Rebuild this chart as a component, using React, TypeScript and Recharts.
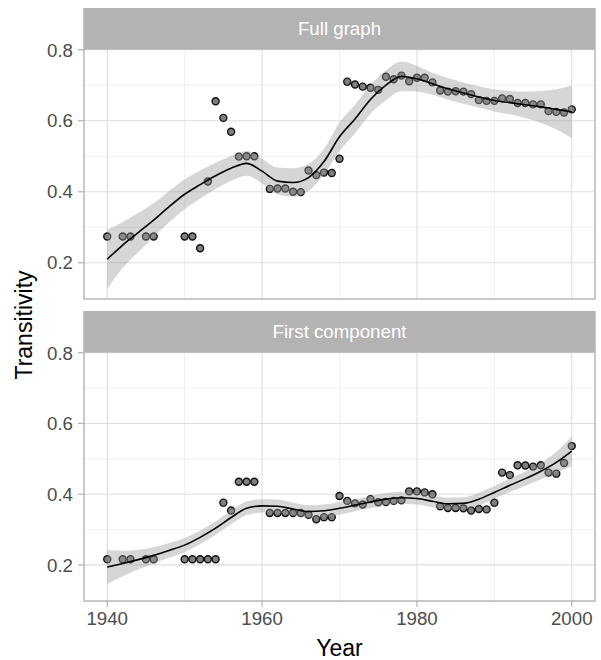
import React from "react";
import {
  ComposedChart,
  Scatter,
  Line,
  Area,
  XAxis,
  YAxis,
  ReferenceLine,
} from "recharts";

// ---------- data ----------
const years = [
  1940, 1942, 1943, 1945, 1946, 1950, 1951, 1952, 1953, 1954, 1955, 1956, 1957,
  1958, 1959, 1961, 1962, 1963, 1964, 1965, 1966, 1967, 1968, 1969, 1970, 1971,
  1972, 1973, 1974, 1975, 1976, 1977, 1978, 1979, 1980, 1981, 1982, 1983, 1984,
  1985, 1986, 1987, 1988, 1989, 1990, 1991, 1992, 1993, 1994, 1995, 1996, 1997,
  1998, 1999, 2000,
];

const fullGraph = [
  0.274, 0.274, 0.274, 0.274, 0.274, 0.274, 0.274, 0.241, 0.429, 0.655, 0.608,
  0.569, 0.499, 0.5, 0.5, 0.408, 0.409, 0.409, 0.4, 0.399, 0.46, 0.447, 0.454,
  0.453, 0.493, 0.71, 0.702, 0.696, 0.693, 0.687, 0.724, 0.717, 0.727, 0.711,
  0.721, 0.721, 0.708, 0.685, 0.682, 0.683, 0.682, 0.675, 0.658, 0.656, 0.656,
  0.663, 0.661, 0.65, 0.65, 0.646, 0.646, 0.627, 0.625, 0.623, 0.632,
];

const firstComponent = [
  0.216, 0.216, 0.216, 0.216, 0.216, 0.216, 0.216, 0.216, 0.216, 0.216, 0.376,
  0.354, 0.435, 0.435, 0.435, 0.347, 0.347, 0.347, 0.347, 0.347, 0.342, 0.329,
  0.335, 0.335, 0.395, 0.381, 0.374, 0.371, 0.386, 0.377, 0.378, 0.381, 0.383,
  0.408, 0.408, 0.405, 0.4, 0.366, 0.361, 0.361, 0.36, 0.354, 0.358, 0.357,
  0.376, 0.461, 0.454, 0.482, 0.481, 0.478, 0.482, 0.461, 0.458, 0.488, 0.536,
];

const smoothYears = [
  1940, 1942, 1944, 1946, 1948, 1950, 1952, 1954, 1956, 1958, 1960, 1962, 1964,
  1966, 1968, 1970, 1972, 1974, 1976, 1978, 1980, 1982, 1984, 1986, 1988, 1990,
  1992, 1994, 1996, 1998, 2000,
];

const fullFit = [
  0.21, 0.25, 0.285, 0.32, 0.358, 0.393, 0.42, 0.445, 0.466, 0.48, 0.458, 0.43,
  0.426, 0.44, 0.485, 0.555, 0.605, 0.66, 0.7, 0.725, 0.718, 0.704, 0.69, 0.678,
  0.667, 0.657, 0.651, 0.645, 0.639, 0.632, 0.625,
];
const fullLo = [
  0.127, 0.185, 0.23, 0.272, 0.314, 0.351, 0.38, 0.408, 0.431, 0.445, 0.423,
  0.392, 0.386, 0.402, 0.449, 0.515, 0.565, 0.62, 0.658, 0.683, 0.682, 0.673,
  0.66, 0.648, 0.637, 0.626, 0.618, 0.608, 0.594, 0.575, 0.551,
];
const fullHi = [
  0.293, 0.315, 0.34, 0.368, 0.402, 0.435, 0.46, 0.482, 0.501, 0.515, 0.493,
  0.468, 0.466, 0.478, 0.521, 0.595, 0.645, 0.7, 0.742, 0.767, 0.754, 0.735,
  0.72, 0.708, 0.697, 0.688, 0.684, 0.682, 0.684, 0.689, 0.699,
];

const compFit = [
  0.194, 0.204, 0.215, 0.227, 0.241, 0.256, 0.278, 0.304, 0.334, 0.36, 0.367,
  0.366, 0.358, 0.351, 0.353, 0.36, 0.369, 0.378, 0.386, 0.39, 0.388, 0.38,
  0.373, 0.374, 0.386, 0.405, 0.425, 0.444, 0.465, 0.49, 0.522,
];
const compLo = [
  0.146, 0.168, 0.187, 0.204, 0.22, 0.236, 0.259, 0.285, 0.315, 0.341, 0.348,
  0.347, 0.34, 0.333, 0.335, 0.342, 0.352, 0.361, 0.369, 0.373, 0.371, 0.363,
  0.356, 0.357, 0.368, 0.387, 0.406, 0.424, 0.442, 0.46, 0.48,
];
const compHi = [
  0.242, 0.24, 0.243, 0.25, 0.262, 0.276, 0.297, 0.323, 0.353, 0.379, 0.386,
  0.385, 0.376, 0.369, 0.371, 0.378, 0.386, 0.395, 0.403, 0.407, 0.405, 0.397,
  0.39, 0.391, 0.404, 0.423, 0.444, 0.464, 0.488, 0.52, 0.564,
];

const panelTitles = ["Full graph", "First component"];
const xTicks = [1940, 1960, 1980, 2000];
const xMinor = [1950, 1970, 1990];
const yTicks = [0.2, 0.4, 0.6, 0.8];
const yMinor = [0.3, 0.5, 0.7];
const xDomain: [number, number] = [1937, 2003];
const yDomain: [number, number] = [0.098, 0.802];

// ---------- layout ----------
const FONT = "'Liberation Sans', Arial, Helvetica, sans-serif";
const PLOT_L = 84;
const PLOT_R = 595;
const P1_TOP = 49;
const P1_BOT = 299;
const P2_TOP = 352;
const P2_BOT = 601;
const STRIP_H = 41;
const GREY70 = "#b3b3b3";
const GRID = "#dedede";

const buildPoints = (vals: number[]) =>
  years.map((y, i) => ({ year: y, value: vals[i] }));
const buildSmooth = (fit: number[], lo: number[], hi: number[]) =>
  smoothYears.map((y, i) => ({ year: y, fit: fit[i], range: [lo[i], hi[i]] }));

const Dot = (props: any) => {
  const { cx, cy } = props;
  if (cx == null || cy == null) return null;
  return (
    <circle cx={cx} cy={cy} r={3.5} fill="#7f7f7f" stroke="#111" strokeWidth={1.4} />
  );
};

const tickStyle = { fill: "#4d4d4d", fontSize: 18.7, fontFamily: FONT };

function BasePanel({
  points,
  showX,
  height,
}: {
  points: { year: number; value: number }[];
  showX: boolean;
  height: number;
}) {
  return (
    <ComposedChart
      width={601}
      height={height}
      margin={{ top: 10, right: 601 - PLOT_R, bottom: showX ? 0 : 10, left: 0 }}
    >
      <XAxis
        type="number"
        dataKey="year"
        domain={xDomain}
        allowDataOverflow
        ticks={xTicks}
        hide={!showX}
        height={40}
        axisLine={false}
        tickLine={{ stroke: GREY70, strokeWidth: 1.2 }}
        tickSize={6}
        tickMargin={5}
        tick={tickStyle}
      />
      <YAxis
        type="number"
        domain={yDomain}
        allowDataOverflow
        ticks={yTicks}
        width={PLOT_L}
        axisLine={false}
        tickLine={{ stroke: GREY70, strokeWidth: 1.2 }}
        tickSize={6}
        tickMargin={5}
        tickFormatter={(v: number) => v.toFixed(1)}
        tick={tickStyle}
      />
      {yMinor.map((v) => (
        <ReferenceLine key={"ym" + v} y={v} stroke="#ececec" strokeWidth={0.8} />
      ))}
      {xMinor.map((v) => (
        <ReferenceLine key={"xm" + v} x={v} stroke="#ececec" strokeWidth={0.8} />
      ))}
      {yTicks.map((v) => (
        <ReferenceLine key={"y" + v} y={v} stroke={GRID} strokeWidth={1.1} />
      ))}
      {xTicks.map((v) => (
        <ReferenceLine key={"x" + v} x={v} stroke={GRID} strokeWidth={1.1} />
      ))}
      <Scatter data={points} dataKey="value" shape={Dot} isAnimationActive={false} />
    </ComposedChart>
  );
}

function SmoothPanel({
  smooth,
  showX,
  height,
}: {
  smooth: any[];
  showX: boolean;
  height: number;
}) {
  return (
    <ComposedChart
      width={601}
      height={height}
      data={smooth}
      margin={{
        top: 10,
        right: 601 - PLOT_R,
        bottom: showX ? 40 : 10,
        left: PLOT_L,
      }}
    >
      <XAxis type="number" dataKey="year" domain={xDomain} allowDataOverflow hide />
      <YAxis type="number" domain={yDomain} allowDataOverflow hide />
      <Area
        dataKey="range"
        type="monotone"
        fill="#999999"
        fillOpacity={0.4}
        stroke="none"
        isAnimationActive={false}
        activeDot={false}
      />
      <Line
        dataKey="fit"
        type="monotone"
        stroke="#000"
        strokeWidth={1.6}
        dot={false}
        activeDot={false}
        isAnimationActive={false}
      />
    </ComposedChart>
  );
}

export default function App() {
  const p1 = buildPoints(fullGraph);
  const p2 = buildPoints(firstComponent);
  const s1 = buildSmooth(fullFit, fullLo, fullHi);
  const s2 = buildSmooth(compFit, compLo, compHi);
  const plotW = PLOT_R - PLOT_L;
  const cx = (PLOT_L + PLOT_R) / 2;
  const h1 = P1_BOT - P1_TOP + 20;
  const h2 = P2_BOT - P2_TOP + 50;
  const abs = (top: number): React.CSSProperties => ({
    position: "absolute",
    left: 0,
    top,
  });
  return (
    <div
      style={{
        position: "absolute",
        left: 0,
        top: 0,
        width: 601,
        height: 660,
        background: "#fff",
        fontFamily: FONT,
      }}
    >
      <div style={abs(P1_TOP - 10)}>
        <BasePanel points={p1} showX={false} height={h1} />
      </div>
      <div style={abs(P1_TOP - 10)}>
        <SmoothPanel smooth={s1} showX={false} height={h1} />
      </div>
      <div style={abs(P2_TOP - 10)}>
        <BasePanel points={p2} showX={true} height={h2} />
      </div>
      <div style={abs(P2_TOP - 10)}>
        <SmoothPanel smooth={s2} showX={true} height={h2} />
      </div>
      <svg
        width={601}
        height={660}
        style={{ position: "absolute", left: 0, top: 0, pointerEvents: "none" }}
      >
        {[
          [P1_TOP, P1_BOT],
          [P2_TOP, P2_BOT],
        ].map(([t, b], i) => (
          <g key={i}>
            <rect
              x={PLOT_L}
              y={t}
              width={plotW}
              height={b - t}
              fill="none"
              stroke={GREY70}
              strokeWidth={1.4}
            />
            <rect
              x={PLOT_L - 0.7}
              y={t - STRIP_H}
              width={plotW + 1.4}
              height={STRIP_H}
              fill={GREY70}
            />
            <text
              x={cx}
              y={t - STRIP_H / 2}
              textAnchor="middle"
              dominantBaseline="central"
              fill="#ffffff"
              fontSize={18.7}
              fontFamily={FONT}
            >
              {panelTitles[i]}
            </text>
          </g>
        ))}
        <text
          x={cx}
          y={648}
          textAnchor="middle"
          dominantBaseline="central"
          fill="#000"
          fontSize={23}
          fontFamily={FONT}
        >
          Year
        </text>
        <text
          x={24}
          y={(P1_TOP + P2_BOT) / 2}
          textAnchor="middle"
          dominantBaseline="central"
          fill="#000"
          fontSize={23}
          fontFamily={FONT}
          transform={`rotate(-90 24 ${(P1_TOP + P2_BOT) / 2})`}
        >
          Transitivity
        </text>
      </svg>
    </div>
  );
}
